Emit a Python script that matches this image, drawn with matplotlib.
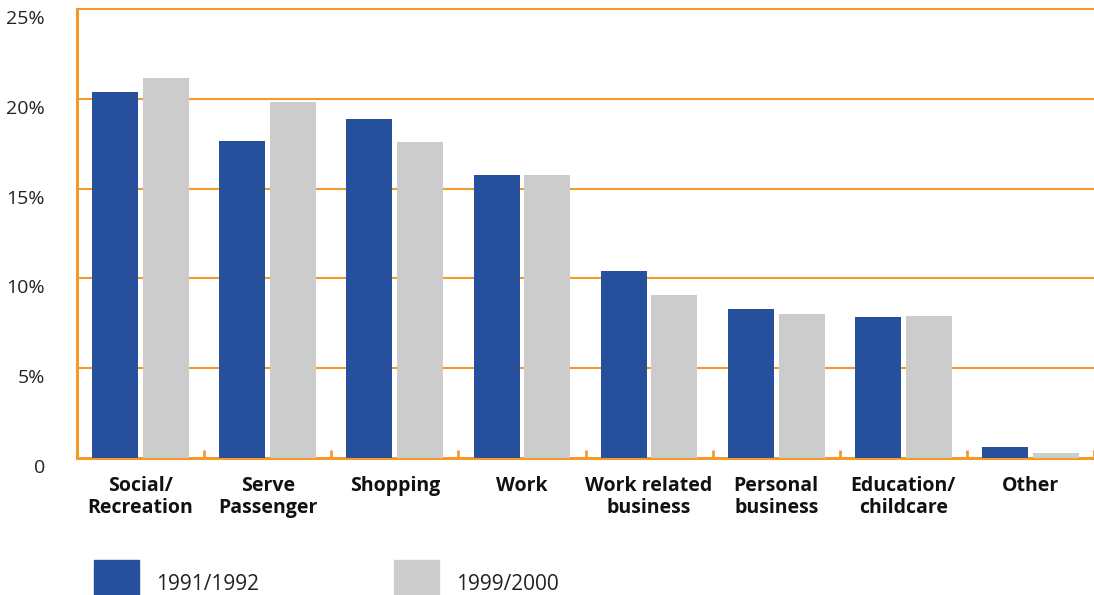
import matplotlib.pyplot as plt
import matplotlib.transforms as mtransforms
from matplotlib.patches import Rectangle
import numpy as np

plt.rcParams['font.family'] = ['Open Sans', 'DejaVu Sans']

categories = ['Social/\nRecreation', 'Serve\nPassenger', 'Shopping', 'Work',
              'Work related\nbusiness', 'Personal\nbusiness', 'Education/\nchildcare', 'Other']
y1991 = [20.4, 17.65, 18.9, 15.75, 10.4, 8.3, 7.85, 0.6]
y1999 = [21.15, 19.8, 17.6, 15.75, 9.1, 8.0, 7.9, 0.3]
series_names = ['1991/1992', '1999/2000']
yticks = [0, 5, 10, 15, 20, 25]
ytick_labels = ['0', '5%', '10%', '15%', '20%', '25%']

blue = '#26509B'
grey = '#CCCCCC'
orange = '#F39A2B'

fig = plt.figure(figsize=(10.94, 5.95), dpi=100)
ax = fig.add_axes([77 / 1094, 137 / 595, 1017 / 1094, 449 / 595])

x = np.arange(len(categories))
w = 0.362
ax.bar(x - 0.2, y1991, width=w, color=blue, zorder=3)
ax.bar(x + 0.2, y1999, width=w, color=grey, zorder=3)

ax.set_xlim(-0.5, len(categories) - 0.5)
ax.set_ylim(0, 25)

for v in yticks[1:]:
    ax.axhline(v, color=orange, lw=1.5, zorder=1, clip_on=False)

for s in ['top', 'right']:
    ax.spines[s].set_visible(False)
for s in ['left', 'bottom']:
    ax.spines[s].set_color(orange)
    ax.spines[s].set_linewidth(2.2)

ax.set_yticks(yticks)
ax.set_yticklabels(ytick_labels, fontsize=14, color='#222222')
ax.tick_params(axis='y', length=0, pad=23)
off = mtransforms.ScaledTranslation(0, -8 / 100, fig.dpi_scale_trans)
for lab in ax.get_yticklabels():
    lab.set_transform(lab.get_transform() + off)

ax.set_xticks(x)
ax.set_xticklabels(categories, fontsize=14, fontweight='bold', color='#111111', linespacing=1.1)
ax.tick_params(axis='x', which='major', length=0, pad=13)
ax.set_xticks(np.arange(0.5, len(categories), 1.0), minor=True)
ax.tick_params(axis='x', which='minor', direction='in', length=6, width=2, color=orange)

# legend
colors = [blue, grey]
lx = [94, 394]
for name, c, px in zip(series_names, colors, lx):
    fig.patches.append(Rectangle((px / 1094, 0), 45 / 1094, 35 / 595,
                                 transform=fig.transFigure, color=c, clip_on=False))
    fig.text((px + 62) / 1094, 5 / 595, name, fontsize=15, color='#222222', va='baseline')

fig.savefig('out.png', dpi=100)
